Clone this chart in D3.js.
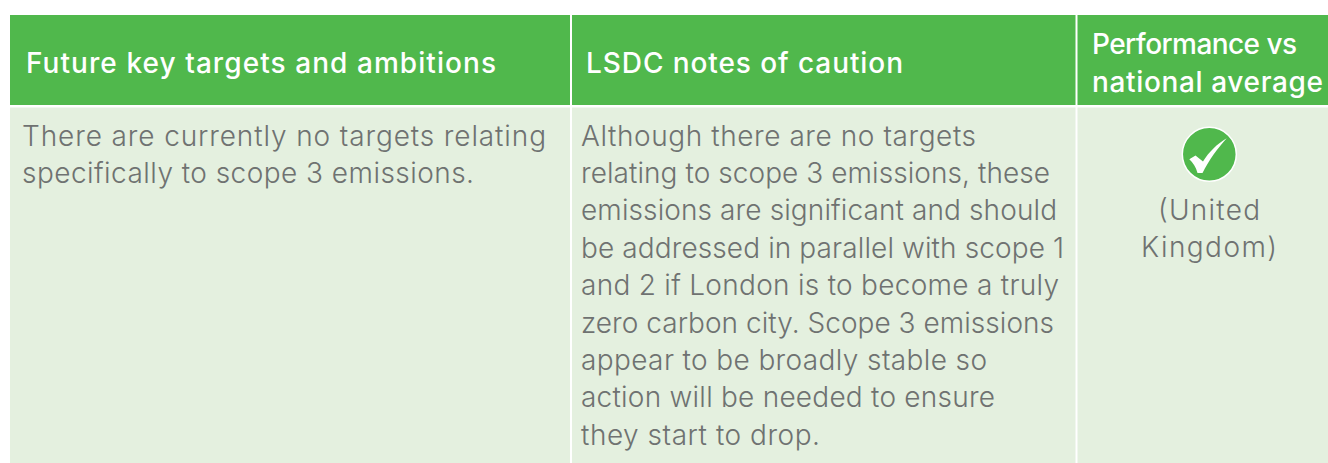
<!DOCTYPE html>
<html>
<head>
<meta charset="utf-8">
<script src="https://cdn.jsdelivr.net/npm/d3@7"></script>
<style>
  html, body { margin: 0; padding: 0; background: #fff; overflow: hidden; }
  text { font-family: Inter, "Open Sans", sans-serif; }
</style>
</head>
<body>
<svg id="chart" width="1328" height="463"></svg>
<script>
const headers = [
  ['Future key targets and ambitions'],
  ['LSDC notes of caution'],
  ['Performance vs', 'national average']
];
const targetLines = [
  'There are currently no targets relating',
  'specifically to scope 3 emissions.'
];
const cautionLines = [
  'Although there are no targets',
  'relating to scope 3 emissions, these',
  'emissions are significant and should',
  'be addressed in parallel with scope 1',
  'and 2 if London is to become a truly',
  'zero carbon city. Scope 3 emissions',
  'appear to be broadly stable so',
  'action will be needed to ensure',
  'they start to drop.'
];
const performanceLines = ['(United', 'Kingdom)'];

const w = 1328;
const h = 463;
const green = '#50b84c';
const paleGreen = '#e4f0df';
const grey = '#6f7271';
const columns = [
  {x0: 10, x1: 570, headX: 26, bodyX: 22},
  {x0: 572, x1: 1075.5, headX: 586, bodyX: 581},
  {x0: 1077.5, x1: 1328, headX: 1092, bodyX: 1209}
];
const headTop = 15;
const headBottom = 105;
const bodyTop = 107.5;
const lineGap = 37.4;

// rendered widths of each line, the substitute font runs differently per line
const headWidths = [[470], [317], [205, 231]];
const targetWidths = [524, 452];
const cautionWidths = [395, 469, 476, 483, 478, 473, 406, 414, 239];
const performanceWidths = [102, 136];

const svg = d3.select('#chart');

svg.selectAll('rect.head')
   .data(columns)
   .enter()
   .append('rect')
   .attr('class', 'head')
   .attr('x', (d) => d.x0)
   .attr('y', headTop)
   .attr('width', (d) => d.x1 - d.x0)
   .attr('height', headBottom - headTop)
   .attr('fill', green);

svg.selectAll('rect.cell')
   .data(columns)
   .enter()
   .append('rect')
   .attr('class', 'cell')
   .attr('x', (d) => d.x0)
   .attr('y', bodyTop)
   .attr('width', (d) => d.x1 - d.x0)
   .attr('height', h - bodyTop)
   .attr('fill', paleGreen);

// header text
const headFirst = [72.5, 72.5, 53.5];
headers.forEach((lines, c) => {
  svg.append('g')
     .selectAll('text')
     .data(lines)
     .enter()
     .append('text')
     .attr('x', columns[c].headX)
     .attr('y', (d, i) => headFirst[c] + i * 38)
     .attr('fill', '#fff')
     .attr('font-size', 28)
     .attr('font-weight', 500)
     .attr('textLength', (d, i) => headWidths[c][i])
     .attr('lengthAdjust', 'spacing')
     .text((d) => d);
});

function bodyText(lines, widths, x, first, anchor) {
  svg.append('g')
     .selectAll('text')
     .data(lines)
     .enter()
     .append('text')
     .attr('x', x)
     .attr('y', (d, i) => first + i * lineGap)
     .attr('text-anchor', anchor)
     .attr('fill', grey)
     .attr('font-size', 28)
     .attr('font-weight', 300)
     .attr('textLength', (d, i) => widths[i])
     .attr('lengthAdjust', 'spacing')
     .text((d) => d);
}

bodyText(targetLines, targetWidths, columns[0].bodyX, 145.5, 'start');
bodyText(cautionLines, cautionWidths, columns[1].bodyX, 145.5, 'start');
bodyText(performanceLines, performanceWidths, columns[2].bodyX, 220, 'middle');

// tick badge
svg.append('circle')
   .attr('cx', 1209.3)
   .attr('cy', 154.3)
   .attr('r', 27)
   .attr('fill', green)
   .attr('stroke', '#fff')
   .attr('stroke-width', 1.5);

svg.append('path')
   .attr('d', 'M1189.3 159.3 L1195.5 155.5 L1203 161.5 C1209 152 1217 144 1226.7 138.3 C1218 148 1209 160 1202.5 173 L1197.5 173 C1196 167 1193 163 1189.3 159.3 Z')
   .attr('fill', '#fff');
</script>
</body>
</html>
